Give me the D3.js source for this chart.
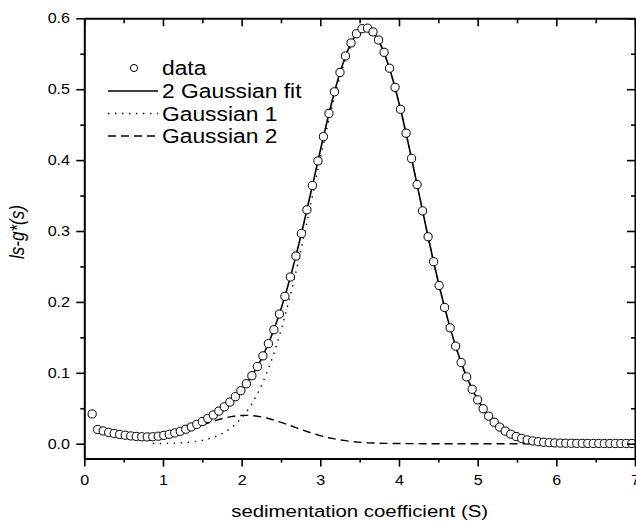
<!DOCTYPE html>
<html>
<head>
<meta charset="utf-8">
<script src="https://cdn.jsdelivr.net/npm/d3@7/dist/d3.min.js"></script>
<style>
  html, body { margin: 0; padding: 0; background: #fff; }
  svg { display: block; font-family: "Liberation Sans", Arial, sans-serif; }
</style>
</head>
<body>
<svg id="chart" width="636" height="523"></svg>
<script>
// sedimentation coefficient grid (S)
const sValues = [
  0.10,0.17,0.24,0.31,0.38,0.45,0.52,0.59,0.66,0.73,
  0.80,0.87,0.94,1.01,1.08,1.15,1.22,1.29,1.36,1.43,
  1.50,1.57,1.64,1.71,1.78,1.85,1.92,1.99,2.06,2.13,
  2.20,2.27,2.34,2.41,2.48,2.55,2.62,2.69,2.76,2.83,
  2.90,2.97,3.04,3.11,3.18,3.25,3.32,3.39,3.46,3.53,
  3.60,3.67,3.74,3.81,3.88,3.95,4.02,4.09,4.16,4.23,
  4.30,4.37,4.44,4.51,4.58,4.65,4.72,4.79,4.86,4.93,
  5.00,5.07,5.14,5.21,5.28,5.35,5.42,5.49,5.56,5.63,
  5.70,5.77,5.84,5.91,5.98,6.05,6.12,6.19,6.26,6.33,
  6.40,6.47,6.54,6.61,6.68,6.75,6.82,6.89,6.96
];

// measured ls-g*(s) distribution
const lsg = [
  0.042,0.020,0.018,0.016,0.0145,0.013,0.012,0.011,0.0103,0.0098,
  0.0096,0.0098,0.0106,0.0118,0.0133,0.0152,0.0175,0.0204,0.0236,0.0272,
  0.0313,0.0357,0.0405,0.0460,0.0520,0.0587,0.0663,0.0748,0.0846,0.0959,
  0.1089,0.1239,0.1411,0.1607,0.1829,0.2078,0.2351,0.2647,0.2965,0.3299,
  0.3642,0.3988,0.4331,0.4658,0.4963,0.5236,0.5469,0.5652,0.5782,0.5853,
  0.5861,0.5808,0.5694,0.5520,0.5296,0.5026,0.4717,0.4380,0.4023,0.3655,
  0.3284,0.2919,0.2567,0.2232,0.1921,0.1634,0.1376,0.1145,0.0943,0.0768,
  0.0619,0.0493,0.0389,0.0303,0.0234,0.0178,0.0135,0.0101,0.0074,0.0054,
  0.0039,0.0028,0.0020,0.0015,0.0011,0.0009,0.0007,0.0006,0.0005,0.0005,
  0.0004,0.0004,0.0004,0.0003,0.0003,0.0003,0.0003,0.0003,0.0003
];

// fitted curves, evaluated on the grid from 0.87 S onwards
const fitS = sValues.slice(11);

const gauss1 = [
  0.0002,0.0003,0.0004,0.0006,0.0008,0.0012,0.0017,0.0024,0.0034,0.0047,
  0.0065,0.0088,0.0119,0.0158,0.0209,0.0272,0.0350,0.0446,0.0562,0.0701,
  0.0865,0.1055,0.1273,0.1520,0.1795,0.2096,0.2421,0.2766,0.3127,0.3495,
  0.3865,0.4228,0.4574,0.4895,0.5182,0.5426,0.5619,0.5757,0.5834,0.5847,
  0.5797,0.5686,0.5515,0.5292,0.5023,0.4715,0.4379,0.4022,0.3654,0.3284,
  0.2919,0.2567,0.2232,0.1921,0.1634,0.1376,0.1145,0.0943,0.0768,0.0619,
  0.0493,0.0389,0.0303,0.0234,0.0178,0.0135,0.0101,0.0074,0.0054,0.0039,
  0.0028,0.0020,0.0014,0.0010,0.0007,0.0004,0.0003,0.0002,0.0001,0.0001,
  0,0,0,0,0,0,0,0
];

const gauss2 = [
  0.0058,0.0072,0.0089,0.0108,0.0130,0.0154,0.0179,0.0207,0.0235,0.0263,
  0.0291,0.0317,0.0341,0.0362,0.0378,0.0391,0.0398,0.0400,0.0397,0.0388,
  0.0374,0.0356,0.0334,0.0309,0.0283,0.0255,0.0226,0.0199,0.0172,0.0147,
  0.0123,0.0103,0.0084,0.0068,0.0054,0.0043,0.0033,0.0025,0.0019,0.0014,
  0.0011,0.0008,0.0005,0.0004,0.0003,0.0002,0.0001,0.0001,0.0001,0,
  0,0,0,0,0,0,0,0,0,0,
  0,0,0,0,0,0,0,0,0,0,
  0,0,0,0,0,0,0,0,0,0,
  0,0,0,0,0,0,0,0
];

const fit2 = [
  0.0060,0.0075,0.0093,0.0114,0.0138,0.0166,0.0196,0.0231,0.0269,0.0310,
  0.0356,0.0405,0.0460,0.0520,0.0587,0.0663,0.0748,0.0846,0.0959,0.1089,
  0.1239,0.1411,0.1607,0.1829,0.2078,0.2351,0.2647,0.2965,0.3299,0.3642,
  0.3988,0.4331,0.4658,0.4963,0.5236,0.5469,0.5652,0.5782,0.5853,0.5861,
  0.5808,0.5694,0.5520,0.5296,0.5026,0.4717,0.4380,0.4023,0.3655,0.3284,
  0.2919,0.2567,0.2232,0.1921,0.1634,0.1376,0.1145,0.0943,0.0768,0.0619,
  0.0493,0.0389,0.0303,0.0234,0.0178,0.0135,0.0101,0.0074,0.0054,0.0039,
  0.0028,0.0020,0.0014,0.0010,0.0007,0.0004,0.0003,0.0002,0.0001,0.0001,
  0,0,0,0,0,0,0,0
];

// axis ticks
const xTicks = [0,1,2,3,4,5,6,7];
const xMinor = [0.5,1.5,2.5,3.5,4.5,5.5,6.5];
const yTicks = [0.0,0.1,0.2,0.3,0.4,0.5,0.6];
const yMinor = [0.05,0.15,0.25,0.35,0.45,0.55];

const legendItems = [
  { label: "data", kind: "circle" },
  { label: "2 Gaussian fit", kind: "solid" },
  { label: "Gaussian 1", kind: "dotted" },
  { label: "Gaussian 2", kind: "dashed" }
];

const xLabel = "sedimentation coefficient (S)";
const yLabel = "ls-g*(s)";

// ---------------------------------------------------------------
(function draw() {
  const svg = d3.select("#chart");
  const pL = 84.3, pR = 635, pT = 18.3, pB = 458.6;
  const x = d3.scaleLinear().domain([0, 7]).range([pL, pR]);
  const y = d3.scaleLinear().domain([-0.021, 0.6]).range([pB, pT]);

  const TX = 1.15;   // horizontal glyph stretch of tick text
  const dashStyles = { solid: null, dotted: "1.4,5.6", dashed: "8,5" };

  // curves (under the markers)
  const line = d3.line().x(d => x(d[0])).y(d => y(d[1]));
  function drawCurve(vals, kind) {
    svg.append("path")
      .datum(fitS.map((s, i) => [s, vals[i]]))
      .attr("d", line)
      .attr("fill", "none")
      .attr("stroke", "#000")
      .attr("stroke-width", kind === "solid" ? 1.6 : 1.4)
      .attr("stroke-dasharray", dashStyles[kind]);
  }
  drawCurve(gauss2, "dashed");
  drawCurve(gauss1, "dotted");
  drawCurve(fit2, "solid");

  // data markers
  svg.append("g").selectAll("circle")
    .data(sValues.map((s, i) => [s, lsg[i]]))
    .join("circle")
    .attr("cx", d => x(d[0]))
    .attr("cy", d => y(d[1]))
    .attr("r", 4.1)
    .attr("fill", "#fff")
    .attr("stroke", "#000")
    .attr("stroke-width", 1);

  // axes
  function styleAxis(g, width) {
    g.select(".domain").attr("stroke", "#000").attr("stroke-width", width);
    g.selectAll(".tick line").attr("stroke", "#000").attr("stroke-width", 1.6);
  }
  const axisFont = 14;

  const gB = svg.append("g").attr("transform", `translate(0,${pB})`)
    .call(d3.axisBottom(x).tickValues(xTicks).tickSize(8).tickSizeOuter(0)
          .tickPadding(8.5).tickFormat(d3.format("d")));
  styleAxis(gB, 2);
  gB.selectAll(".tick text").attr("font-size", axisFont).attr("fill", "#000")
    .attr("font-family", "Liberation Sans, Arial, sans-serif")
    .attr("transform", `scale(${TX},1)`);
  svg.append("g").attr("transform", `translate(0,${pB})`)
    .call(d3.axisBottom(x).tickValues(xMinor).tickSize(4).tickFormat(""))
    .call(g => { g.select(".domain").remove(); styleAxis(g, 2); });

  const gL = svg.append("g").attr("transform", `translate(${pL},0)`)
    .call(d3.axisLeft(y).tickValues(yTicks).tickSize(8).tickSizeOuter(0)
          .tickPadding(4.4).tickFormat(d3.format(".1f")));
  styleAxis(gL, 2);
  gL.selectAll(".tick text").attr("font-size", axisFont).attr("fill", "#000")
    .attr("font-family", "Liberation Sans, Arial, sans-serif")
    .attr("transform", `scale(${TX},1)`);
  svg.append("g").attr("transform", `translate(${pL},0)`)
    .call(d3.axisLeft(y).tickValues(yMinor).tickSize(4).tickFormat(""))
    .call(g => { g.select(".domain").remove(); styleAxis(g, 2); });

  svg.append("g").attr("transform", `translate(0,${pT})`)
    .call(d3.axisTop(x).tickValues(xTicks).tickSizeInner(-8).tickSizeOuter(0).tickFormat(""))
    .call(g => styleAxis(g, 2));
  svg.append("g").attr("transform", `translate(0,${pT})`)
    .call(d3.axisTop(x).tickValues(xMinor).tickSizeInner(-5).tickSizeOuter(0).tickFormat(""))
    .call(g => { g.select(".domain").remove(); styleAxis(g, 2); });

  svg.append("g").attr("transform", `translate(${pR},0)`)
    .call(d3.axisRight(y).tickValues(yTicks).tickSizeInner(-8).tickSizeOuter(0).tickFormat(""))
    .call(g => styleAxis(g, 2));
  svg.append("g").attr("transform", `translate(${pR},0)`)
    .call(d3.axisRight(y).tickValues(yMinor).tickSizeInner(-4).tickSizeOuter(0).tickFormat(""))
    .call(g => { g.select(".domain").remove(); styleAxis(g, 2); });

  // axis titles
  svg.append("text")
    .attr("transform", `translate(${(pL + pR) / 2},517) scale(1.2,1)`)
    .attr("text-anchor", "middle")
    .attr("font-size", 17)
    .attr("fill", "#000")
    .text(xLabel);

  svg.append("text")
    .attr("transform", `translate(24,232) scale(1.17,1) rotate(-90)`)
    .attr("text-anchor", "middle")
    .attr("font-size", 17)
    .attr("font-style", "italic")
    .attr("fill", "#000")
    .text(yLabel);

  // legend
  const legRows = [68, 91, 113.5, 136];
  const leg = svg.append("g");
  legendItems.forEach((item, i) => {
    const cy = legRows[i];
    if (item.kind === "circle") {
      leg.append("circle").attr("cx", 134).attr("cy", cy).attr("r", 3.6)
        .attr("fill", "#fff").attr("stroke", "#000").attr("stroke-width", 1);
    } else {
      leg.append("line").attr("x1", 108).attr("x2", 158).attr("y1", cy).attr("y2", cy)
        .attr("stroke", "#000").attr("stroke-width", item.kind === "solid" ? 1.6 : 1.4)
        .attr("stroke-dasharray", dashStyles[item.kind]);
    }
    leg.append("text")
      .attr("transform", `translate(162,${cy + 7}) scale(1.17,1)`)
      .attr("font-size", 19.5)
      .attr("fill", "#000")
      .text(item.label);
  });
})();
</script>
</body>
</html>
